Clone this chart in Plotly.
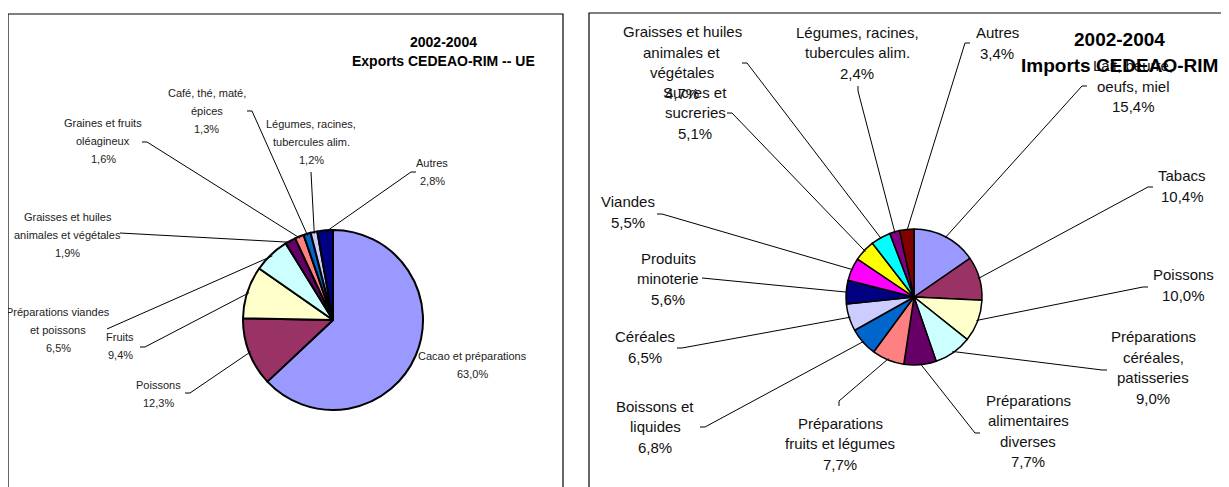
import math
import plotly.graph_objects as go

# ---------------- data ----------------
exp_categories = [
    "Cacao et préparations", "Poissons", "Fruits", "Préparations viandes\net poissons",
    "Graisses et huiles\nanimales et végétales", "Graines et fruits\noléagineux",
    "Café, thé, maté,\népices", "Légumes, racines,\ntubercules alim.", "Autres",
]
exp_values = [63.0, 12.3, 9.4, 6.5, 1.9, 1.6, 1.3, 1.2, 2.8]

imp_categories = [
    "Lait, beurre,\noeufs, miel", "Tabacs", "Poissons", "Préparations\ncéréales,\npatisseries",
    "Préparations\nalimentaires\ndiverses", "Préparations\nfruits et légumes", "Boissons et\nliquides",
    "Céréales", "Produits\nminoterie", "Viandes", "Sucres et\nsucreries",
    "Graisses et huiles\nanimales et\nvégétales", "Légumes, racines,\ntubercules alim.", "Autres",
]
imp_values = [15.4, 10.4, 10.0, 9.0, 7.7, 7.7, 6.8, 6.5, 5.6, 5.5, 5.1, 4.7, 2.4, 3.4]

palette = ["#9999FF", "#993366", "#FFFFCC", "#CCFFFF", "#660066", "#FF8080", "#0066CC",
           "#CCCCFF", "#000080", "#FF00FF", "#FFFF00", "#00FFFF", "#800080", "#800000"]

exp_title = ["2002-2004", "Exports CEDEAO-RIM -- UE"]
imp_title = ["2002-2004", "Imports CEDEAO-RIM"]

# ---------------- layout (screen pixel positions) ----------------
OFF = 8                      # page body margin
FW, FH = 1229 - OFF, 487 - OFF
def PX(x): return (x - OFF) / FW
def PY(y): return 1 - (y - OFF) / FH

LEFT = dict(cx=333, cy=320, r=90)
RIGHT = dict(cx=914, cy=297, r=68)

# label centre (x, y), leader anchor (x, y), tick direction
exp_label_pos = [
    (472, 365, None, None, None),
    (158, 394, 185, 393, "h"),
    (120, 346, 140, 347, "h"),
    (58, 329.5, 107, 329, None),
    (68, 235, 120, 233, None),
    (103, 141, 142, 142, "h"),
    (207, 111, 247, 111, "h"),
    (311, 142, 311, 172, None),
    (432, 172, 416, 172, "h"),
]
imp_label_pos = [
    (1133, 86, 1087, 86, "h"),
    (1182, 186, 1153, 187, "h"),
    (1183, 285, 1148, 287, "h"),
    (1153, 367.5, 1107, 370, "h"),
    (1028, 431, 980, 433, "h"),
    (840, 443.5, 839, 406, "v"),
    (655, 426.5, 700, 427, "h"),
    (645, 347, 677, 348, "h"),
    (668, 278.5, 702, 278, None),
    (628, 212, 657, 214, "h"),
    (695, 112.5, 727, 113, "h"),
    (682, 62.5, 742, 63, "h"),
    (857, 52.5, 858, 86, "v"),
    (997, 43, 970, 43, "h"),
]

def fmt(v):
    return ("%.1f" % v).replace(".", ",") + "%"

fig = go.Figure()

def add_pie(cats, vals, geo, linew):
    cx, cy, r = geo["cx"], geo["cy"], geo["r"]
    fig.add_trace(go.Pie(
        labels=[c.replace("\n", " ") for c in cats], values=vals,
        sort=False, direction="clockwise", rotation=0,
        marker=dict(colors=palette[:len(vals)], line=dict(color="black", width=linew)),
        textinfo="none", hoverinfo="label+percent", showlegend=False,
        domain=dict(x=[PX(cx - r), PX(cx + r)], y=[PY(cy + r), PY(cy - r)]),
    ))

add_pie(exp_categories, exp_values, LEFT, 2)
add_pie(imp_categories, imp_values, RIGHT, 1.5)

shapes = []
annotations = []

# boxes
shapes.append(dict(type="rect", xref="paper", yref="paper", x0=PX(8), x1=PX(563),
                   y0=PY(520), y1=PY(14), line=dict(color="black", width=1.2)))
shapes.append(dict(type="rect", xref="paper", yref="paper", x0=PX(589), x1=PX(1228),
                   y0=PY(520), y1=PY(13), line=dict(color="black", width=1.2)))

def add_text_block(lines, x, yc, spacing, font):
    n = len(lines)
    for i, t in enumerate(lines):
        y = yc + (i - (n - 1) / 2) * spacing
        annotations.append(dict(xref="paper", yref="paper", x=PX(x), y=PY(y),
                                xanchor="center", yanchor="middle", text=t,
                                showarrow=False, font=font))

def add_labels(cats, vals, geo, positions, font, spacing):
    cx, cy, r = geo["cx"], geo["cy"], geo["r"]
    total = sum(vals)
    cum = 0.0
    for cat, v, pos in zip(cats, vals, positions):
        mid = (cum + v / 2) / total * 2 * math.pi
        cum += v
        lx, ly, ax, ay, tick = pos
        add_text_block(cat.split("\n") + [fmt(v)], lx, ly, spacing, font)
        if ax is None:
            continue
        ex = cx + 0.98 * r * math.sin(mid)
        ey = cy - 0.98 * r * math.cos(mid)
        pts = [(ax, ay)]
        if tick == "h":
            pts.append((ax + (5 if ex > ax else -5), ay))
        elif tick == "v":
            pts.append((ax, ay + (5 if ey > ay else -5)))
        pts.append((ex, ey))
        path = "M " + " L ".join("%f,%f" % (PX(x), PY(y)) for x, y in pts)
        shapes.append(dict(type="path", xref="paper", yref="paper", path=path,
                           line=dict(color="black", width=1)))

left_font = dict(family="Liberation Sans, Arial, sans-serif", size=11, color="#222222")
right_font = dict(family="Liberation Sans, Arial, sans-serif", size=15, color="#111111")

add_labels(exp_categories, exp_values, LEFT, exp_label_pos, left_font, 18)
add_labels(imp_categories, imp_values, RIGHT, imp_label_pos, right_font, 20.5)

add_text_block(["<b>%s</b>" % t for t in exp_title], 443, 51.5, 19,
               dict(family="Liberation Sans, Arial, sans-serif", size=14, color="black"))
add_text_block(["<b>%s</b>" % t for t in imp_title], 1119, 52, 26,
               dict(family="Liberation Sans, Arial, sans-serif", size=19, color="black"))

fig.update_layout(
    width=FW, height=FH, margin=dict(l=0, r=0, t=0, b=0),
    paper_bgcolor="white", plot_bgcolor="white",
    shapes=shapes, annotations=annotations, showlegend=False,
)

fig.write_html("out.html")
